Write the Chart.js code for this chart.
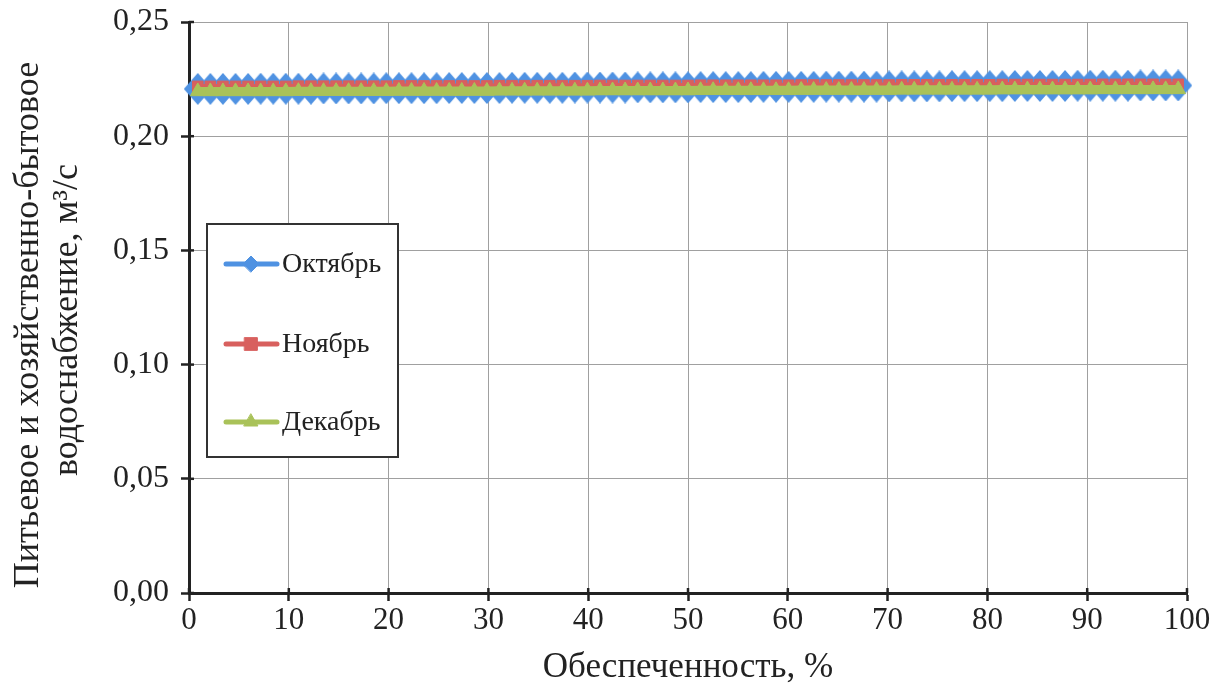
<!DOCTYPE html>
<html>
<head>
<meta charset="utf-8">
<script src="https://cdn.jsdelivr.net/npm/chart.js@4/dist/chart.umd.min.js"></script>
<style>
  html, body { margin: 0; padding: 0; background: #ffffff; }
  #wrap { width: 1221px; height: 695px; }
</style>
</head>
<body>
<div id="wrap"><canvas id="c" width="1221" height="695"></canvas></div>
<script>
// ---- data ----
const seriesNames = ['Октябрь', 'Ноябрь', 'Декабрь'];
const xTitle = 'Обеспеченность, %';
const yTitle = ['Питьевое и хозяйственно-бытовое', 'водоснабжение, м³/с'];

const pct = [0.88, 2.14, 3.40, 4.66, 5.92, 7.18, 8.44, 9.70, 10.96, 12.22,
  13.48, 14.74, 15.99, 17.25, 18.51, 19.77, 21.03, 22.29, 23.55, 24.81,
  26.07, 27.33, 28.59, 29.85, 31.11, 32.37, 33.63, 34.89, 36.15, 37.41,
  38.66, 39.92, 41.18, 42.44, 43.70, 44.96, 46.22, 47.48, 48.74, 50.00,
  51.26, 52.52, 53.78, 55.04, 56.30, 57.56, 58.82, 60.08, 61.34, 62.59,
  63.85, 65.11, 66.37, 67.63, 68.89, 70.15, 71.41, 72.67, 73.93, 75.19,
  76.45, 77.71, 78.97, 80.23, 81.49, 82.75, 84.01, 85.26, 86.52, 87.78,
  89.04, 90.30, 91.56, 92.82, 94.08, 95.34, 96.60, 97.86, 99.12];

const october = [0.2207, 0.2207, 0.2207, 0.2207, 0.2207, 0.2208, 0.2208, 0.2208, 0.2208, 0.2208,
  0.2209, 0.2209, 0.2209, 0.2209, 0.2209, 0.2210, 0.2210, 0.2210, 0.2210, 0.2210,
  0.2211, 0.2211, 0.2211, 0.2211, 0.2211, 0.2212, 0.2212, 0.2212, 0.2212, 0.2212,
  0.2213, 0.2213, 0.2213, 0.2213, 0.2213, 0.2214, 0.2214, 0.2214, 0.2214, 0.2214,
  0.2215, 0.2215, 0.2215, 0.2215, 0.2215, 0.2216, 0.2216, 0.2216, 0.2216, 0.2216,
  0.2217, 0.2217, 0.2217, 0.2217, 0.2217, 0.2218, 0.2218, 0.2218, 0.2218, 0.2218,
  0.2219, 0.2219, 0.2219, 0.2219, 0.2219, 0.2220, 0.2220, 0.2220, 0.2220, 0.2220,
  0.2221, 0.2221, 0.2221, 0.2221, 0.2221, 0.2222, 0.2222, 0.2222, 0.2222];

const november = [0.2218, 0.2218, 0.2218, 0.2218, 0.2218, 0.2218, 0.2218, 0.2218,
  0.2219, 0.2219, 0.2219, 0.2219, 0.2219, 0.2219, 0.2219, 0.2219,
  0.2220, 0.2220, 0.2220, 0.2220, 0.2220, 0.2220, 0.2220, 0.2220,
  0.2221, 0.2221, 0.2221, 0.2221, 0.2221, 0.2221, 0.2221, 0.2221,
  0.2222, 0.2222, 0.2222, 0.2222, 0.2222, 0.2222, 0.2222, 0.2222,
  0.2223, 0.2223, 0.2223, 0.2223, 0.2223, 0.2223, 0.2223, 0.2223,
  0.2224, 0.2224, 0.2224, 0.2224, 0.2224, 0.2224, 0.2224, 0.2224,
  0.2225, 0.2225, 0.2225, 0.2225, 0.2225, 0.2225, 0.2225, 0.2225,
  0.2226, 0.2226, 0.2226, 0.2226, 0.2226, 0.2226, 0.2226, 0.2226,
  0.2227, 0.2227, 0.2227, 0.2227, 0.2227, 0.2227, 0.2227];

const december = [0.2196, 0.2196, 0.2196, 0.2196, 0.2196, 0.2196, 0.2196, 0.2196,
  0.2197, 0.2197, 0.2197, 0.2197, 0.2197, 0.2197, 0.2197, 0.2197,
  0.2198, 0.2198, 0.2198, 0.2198, 0.2198, 0.2198, 0.2198, 0.2198,
  0.2199, 0.2199, 0.2199, 0.2199, 0.2199, 0.2199, 0.2199, 0.2199,
  0.2200, 0.2200, 0.2200, 0.2200, 0.2200, 0.2200, 0.2200, 0.2200,
  0.2201, 0.2201, 0.2201, 0.2201, 0.2201, 0.2201, 0.2201, 0.2201,
  0.2202, 0.2202, 0.2202, 0.2202, 0.2202, 0.2202, 0.2202, 0.2202,
  0.2203, 0.2203, 0.2203, 0.2203, 0.2203, 0.2203, 0.2203, 0.2203,
  0.2204, 0.2204, 0.2204, 0.2204, 0.2204, 0.2204, 0.2204, 0.2204,
  0.2205, 0.2205, 0.2205, 0.2205, 0.2205, 0.2205, 0.2205];

// ---- styles ----
const BLUE = '#4f92e2';
const RED = '#d8605e';
const GREEN = '#a9c259';
const SERIF = "'Liberation Serif', 'Times New Roman', 'DejaVu Serif', serif";

function diamondImage(w, h, color) {
  const cv = document.createElement('canvas');
  cv.width = w; cv.height = h;
  const g = cv.getContext('2d');
  g.fillStyle = color;
  g.beginPath();
  g.moveTo(w / 2, 0); g.lineTo(w, h / 2); g.lineTo(w / 2, h); g.lineTo(0, h / 2);
  g.closePath(); g.fill();
  return cv;
}

const toPts = (vals) => vals.map((v, i) => ({ x: pct[i], y: v }));

const decorPlugin = {
  id: 'decor',
  afterDraw(chart) {
    const ctx = chart.ctx;
    const area = chart.chartArea;
    ctx.save();
    // inner halves of the crossing tick marks
    const xs = chart.scales.x, ys = chart.scales.y;
    ctx.strokeStyle = '#222'; ctx.lineWidth = 2.5;
    ys.ticks.forEach(t => {
      const py = ys.getPixelForValue(t.value);
      ctx.beginPath(); ctx.moveTo(area.left, py); ctx.lineTo(area.left + 5, py); ctx.stroke();
    });
    xs.ticks.forEach(t => {
      const px = xs.getPixelForValue(t.value);
      ctx.beginPath(); ctx.moveTo(px, area.bottom); ctx.lineTo(px, area.bottom - 5); ctx.stroke();
    });
    // y-axis title (two rotated lines)
    ctx.fillStyle = '#222';
    ctx.font = '36px ' + SERIF;
    ctx.textAlign = 'center'; ctx.textBaseline = 'middle';
    [[29, 325], [68, 320]].forEach((p, i) => {
      ctx.save();
      ctx.translate(p[0], p[1]);
      ctx.rotate(-Math.PI / 2);
      ctx.fillText(yTitle[i], 0, 0);
      ctx.restore();
    });
    // legend box
    const bx = 207, by = 224, bw = 191, bh = 233;
    ctx.fillStyle = '#ffffff';
    ctx.fillRect(bx, by, bw, bh);
    ctx.strokeStyle = '#333'; ctx.lineWidth = 2;
    ctx.strokeRect(bx, by, bw, bh);
    const rows = [264, 344, 422];
    const colors = [BLUE, RED, GREEN];
    const styles = ['rectRot', 'rect', 'triangle'];
    const radii = [8, 9, 8];
    rows.forEach((ry, i) => {
      ctx.strokeStyle = colors[i]; ctx.lineWidth = 5; ctx.lineCap = 'round';
      ctx.beginPath(); ctx.moveTo(226, ry); ctx.lineTo(277, ry); ctx.stroke();
      ctx.fillStyle = colors[i]; ctx.strokeStyle = colors[i]; ctx.lineWidth = 1;
      Chart.helpers.drawPoint(ctx, { pointStyle: styles[i], radius: radii[i], rotation: 0, borderWidth: 1 }, 251, ry);
      ctx.fillStyle = '#222';
      ctx.font = '28px ' + SERIF;
      ctx.textAlign = 'left'; ctx.textBaseline = 'middle';
      ctx.fillText(seriesNames[i], 282, ry + 1);
    });
    ctx.restore();
  }
};

Chart.defaults.font.family = SERIF;
Chart.defaults.color = '#222';

new Chart(document.getElementById('c'), {
  type: 'line',
  data: {
    datasets: [
      {
        label: seriesNames[0], data: toPts(october), order: 3,
        borderColor: BLUE, backgroundColor: BLUE, borderWidth: 5,
        pointStyle: diamondImage(28, 32, BLUE), pointRadius: 14, clip: false
      },
      {
        label: seriesNames[1], data: toPts(november), order: 2,
        borderColor: RED, backgroundColor: RED, borderWidth: 5,
        pointStyle: 'rect', pointRadius: 7.5, pointBorderWidth: 1, pointBorderColor: RED, clip: false
      },
      {
        label: seriesNames[2], data: toPts(december), order: 1,
        borderColor: GREEN, backgroundColor: GREEN, borderWidth: 9,
        pointStyle: 'triangle', pointRadius: 8.5, pointBorderWidth: 1, pointBorderColor: GREEN, clip: false
      }
    ]
  },
  options: {
    responsive: false,
    animation: false,
    devicePixelRatio: 1,
    layout: { padding: { top: 22, right: 34, left: 0, bottom: 0 } },
    plugins: { legend: { display: false }, tooltip: { enabled: false } },
    elements: { line: { tension: 0 } },
    scales: {
      x: {
        type: 'linear', min: 0, max: 100,
        ticks: { stepSize: 10, font: { size: 31 }, color: '#222', padding: 1, maxRotation: 0 },
        grid: { color: '#a0a0a0', lineWidth: 1, tickColor: '#222', tickLength: 8, tickWidth: 2.5 },
        border: { color: '#222', width: 3 },
        title: { display: true, text: xTitle, font: { size: 35 }, color: '#222', padding: { top: 0, bottom: 6 } },
        afterFit(s) { s.height = 102; s.paddingLeft = 0; s.paddingRight = 0; }
      },
      y: {
        type: 'linear', min: 0, max: 0.25,
        ticks: {
          stepSize: 0.05, font: { size: 32 }, color: '#222', padding: 12,
          callback: (v) => v.toFixed(2).replace('.', ',')
        },
        grid: { color: '#a0a0a0', lineWidth: 1, tickColor: '#222', tickLength: 8, tickWidth: 2.5 },
        border: { color: '#222', width: 3 },
        title: { display: false },
        afterFit(s) { s.width = 189; s.paddingTop = 0; s.paddingBottom = 0; }
      }
    }
  },
  plugins: [decorPlugin]
});
</script>
</body>
</html>
